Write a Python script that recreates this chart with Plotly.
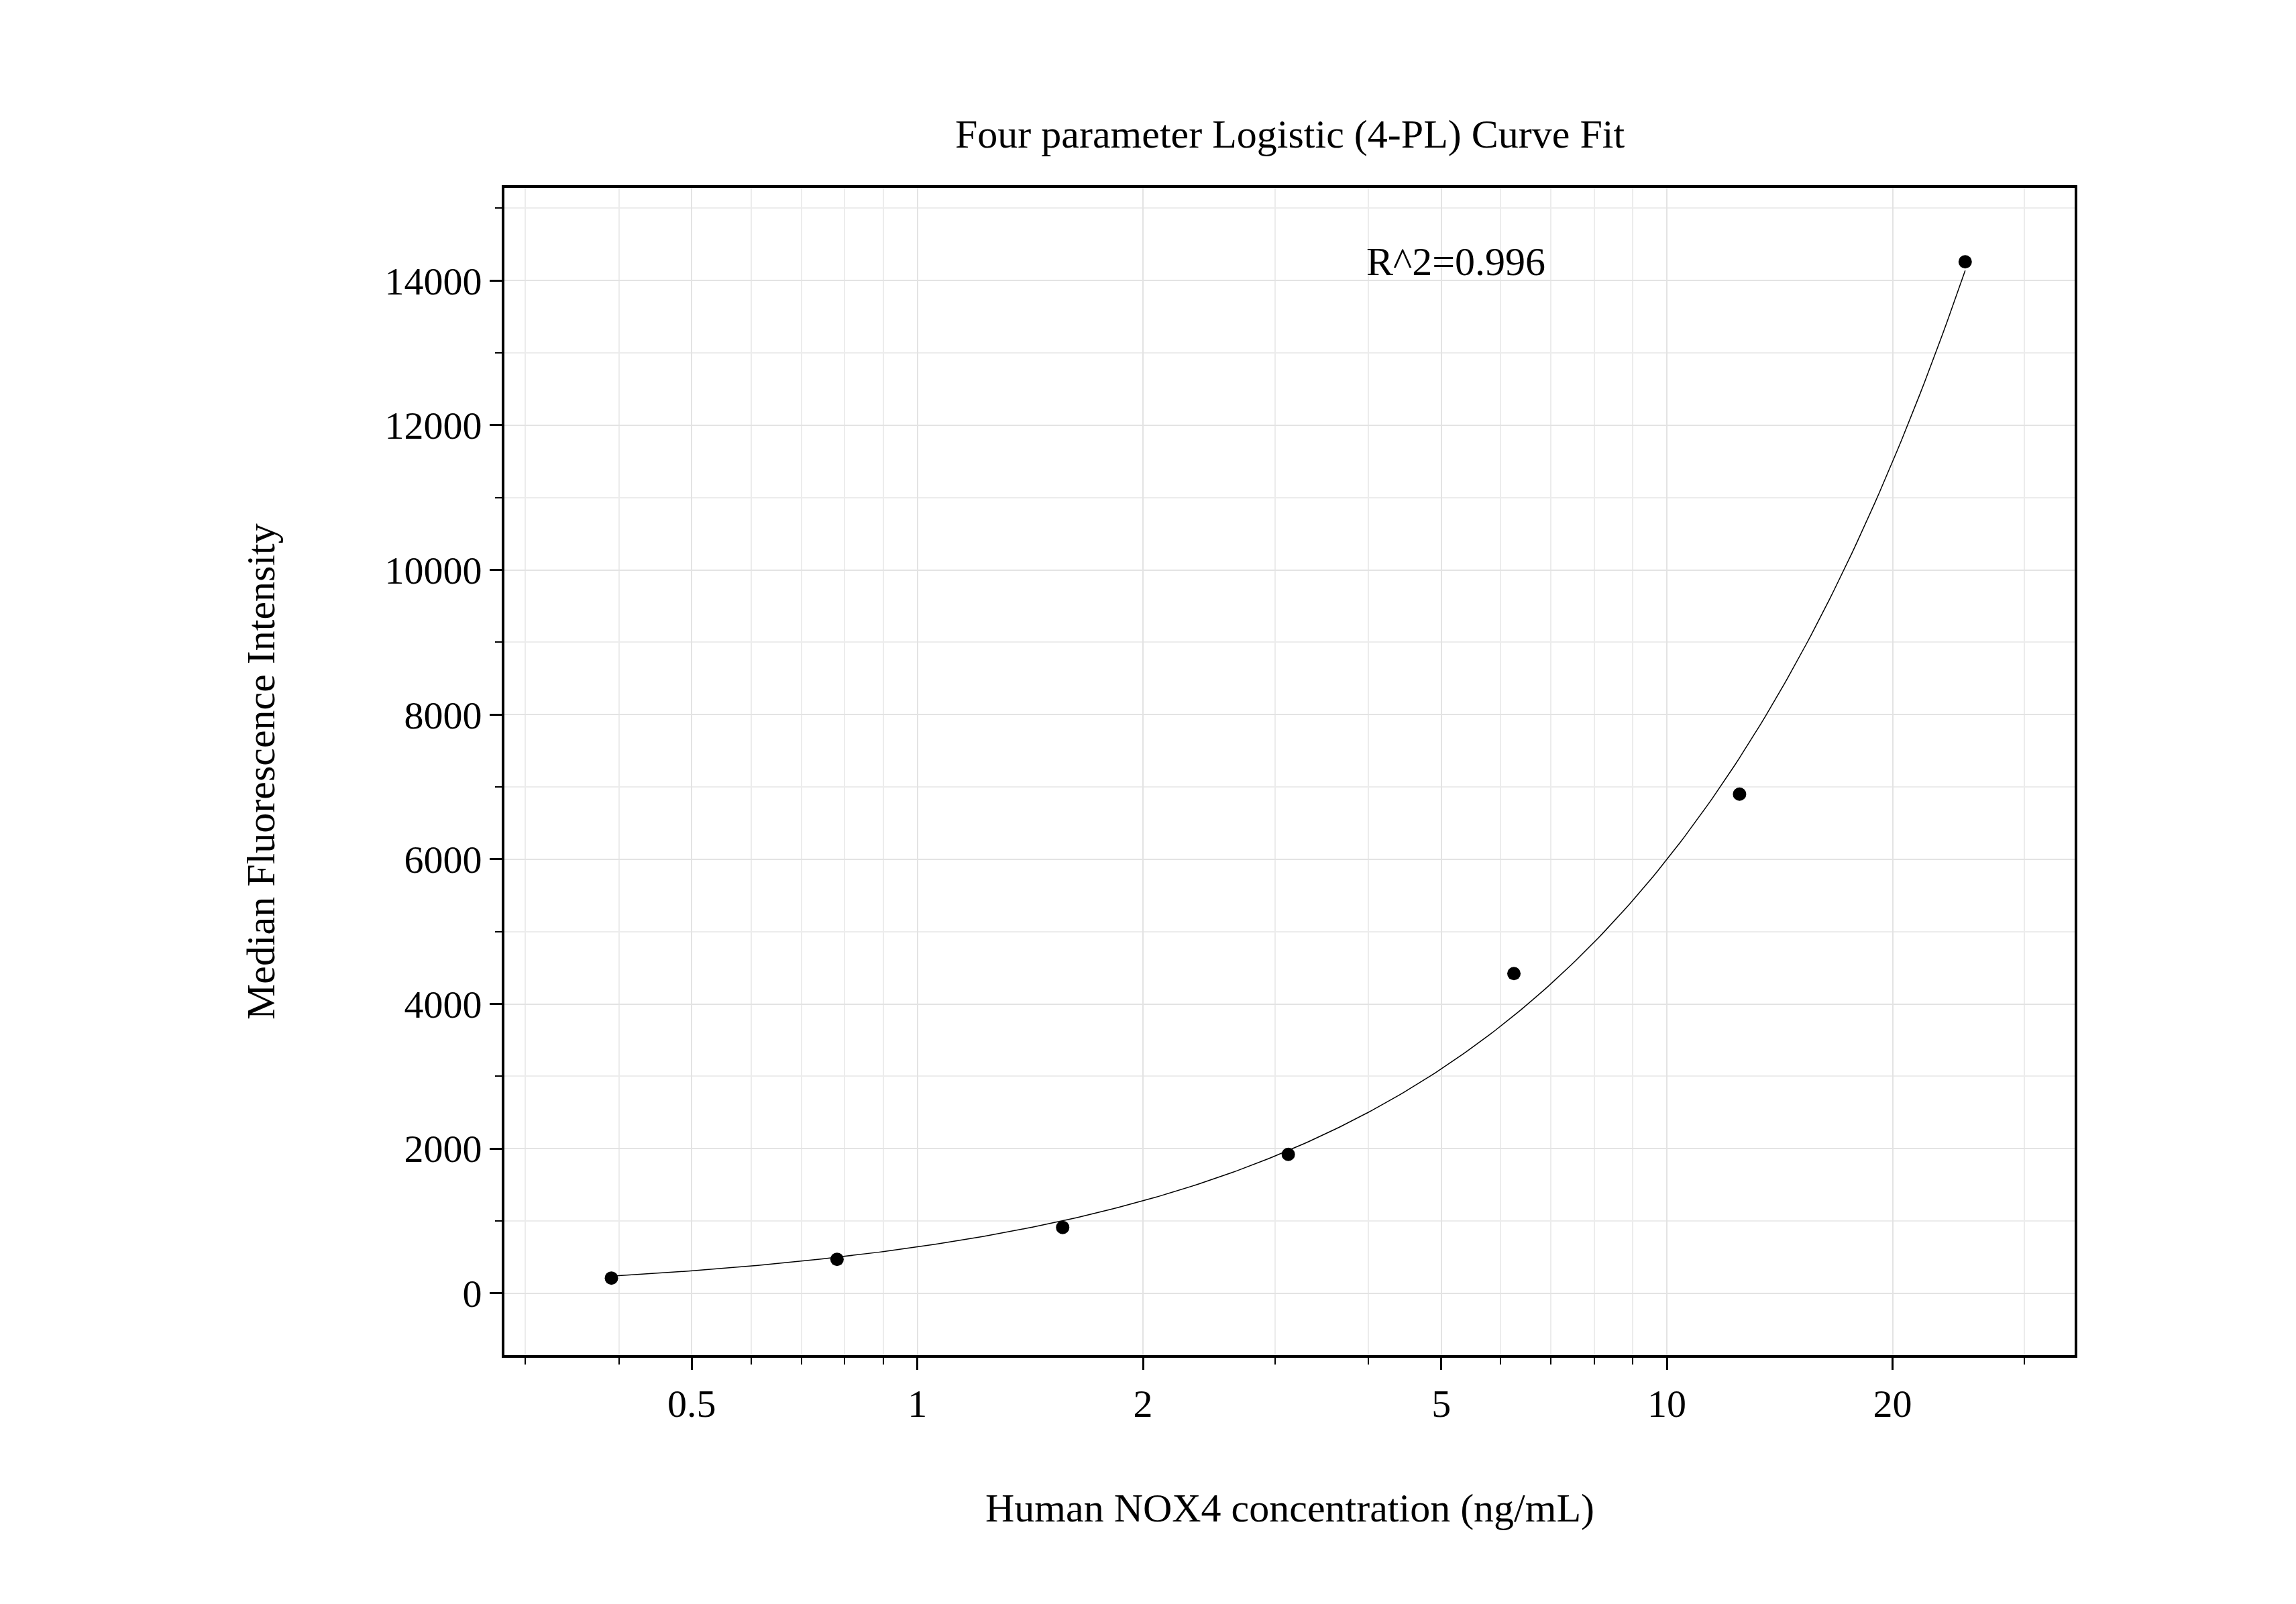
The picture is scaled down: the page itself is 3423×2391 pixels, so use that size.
import numpy as np
import plotly.graph_objects as go

conc = [0.390625, 0.78125, 1.5625, 3.125, 6.25, 12.5, 25]
mfi = [210, 470, 910, 1920, 4420, 6900, 14260]
x_ticks = [0.5, 1, 2, 5, 10, 20]
x_minor = [0.3, 0.4, 0.6, 0.7, 0.8, 0.9, 3, 4, 6, 7, 8, 9, 30]
y_ticks = [0, 2000, 4000, 6000, 8000, 10000, 12000, 14000]

# 4-PL fit to the data (A, D linear given B, C)
x = np.array(conc); y = np.array(mfi, dtype=float)
best = None
for B in np.linspace(0.5, 2.5, 81):
    for C in np.logspace(0, 3, 121):
        u = (x / C) ** B
        g = 1 / (1 + u)
        M = np.vstack([g, 1 - g]).T
        coef, *_ = np.linalg.lstsq(M, y, rcond=None)
        r = ((M @ coef - y) ** 2).sum()
        if best is None or r < best[0]:
            best = (r, B, C, coef)
_, B, C, (A, D) = best
xc = np.logspace(np.log10(conc[0]), np.log10(conc[-1]), 300)
yc = D + (A - D) / (1 + (xc / C) ** B)

font = "Liberation Serif"
fig = go.Figure()
fig.add_trace(go.Scatter(x=xc, y=yc, mode="lines", line=dict(color="black", width=1.5), showlegend=False))
fig.add_trace(go.Scatter(x=conc, y=mfi, mode="markers", marker=dict(color="black", size=20), showlegend=False))

axcommon = dict(showline=True, linecolor="black", linewidth=4, mirror=True, ticks="outside",
                ticklen=18, tickwidth=3, tickcolor="black", gridcolor="#e3e3e3", gridwidth=2,
                zeroline=False, tickfont=dict(family=font, size=58, color="black"))
fig.update_xaxes(type="log", range=[-0.551, 1.544], tickvals=x_ticks, ticktext=[str(v) for v in x_ticks],
                 minor=dict(tickvals=x_minor, ticks="outside", ticklen=10, tickwidth=2, tickcolor="black",
                            showgrid=True, gridcolor="#ececec"), **axcommon)
fig.update_yaxes(range=[-855, 15282], tickvals=y_ticks, ticktext=[str(v) for v in y_ticks],
                 minor=dict(dtick=1000, tick0=0, ticks="outside", ticklen=10, tickwidth=2, tickcolor="black",
                            showgrid=True, gridcolor="#ececec"), **axcommon)
fig.update_layout(
    width=3423, height=2391, plot_bgcolor="white", paper_bgcolor="white",
    margin=dict(l=744, r=338, t=272, b=379),
    annotations=[
        dict(text="Four parameter Logistic (4-PL) Curve Fit", x=0.5, y=1.066, xref="paper", yref="paper",
             showarrow=False, font=dict(family=font, size=60, color="black")),
        dict(text="Human NOX4 concentration (ng/mL)", xref="paper", yref="paper", x=0.5, y=-0.151,
             showarrow=False, font=dict(family=font, size=60, color="black")),
        dict(text="Median Fluorescence Intensity", xref="paper", yref="paper", x=-0.17, y=0.5, textangle=-90,
             showarrow=False, font=dict(family=font, size=60, color="black")),
        dict(text="R^2=0.996", x=np.log10(5.23), y=14265, showarrow=False,
             font=dict(family=font, size=60, color="black")),
    ],
)
fig.write_html("out.html")
